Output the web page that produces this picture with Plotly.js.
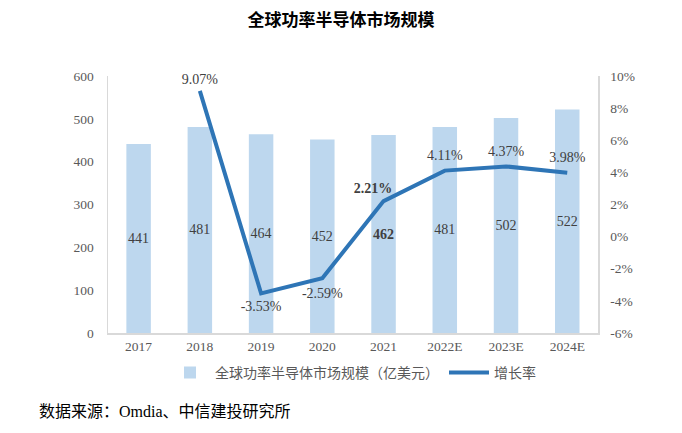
<!DOCTYPE html>
<html>
<head>
<meta charset="utf-8">
<script src="https://cdn.plot.ly/plotly-3.0.1.min.js"></script>
<style>
  body { margin: 0; background: #fff; }
  #chart { width: 682px; height: 433px; }
</style>
</head>
<body>
<div id="chart"></div>
<script>
// categories and values
var years = ["2017", "2018", "2019", "2020", "2021", "2022E", "2023E", "2024E"];
var marketSize = [441, 481, 464, 452, 462, 481, 502, 522];
var sizeLabels = ["441", "481", "464", "452", "<b>462</b>", "481", "502", "522"];
var growthYears = ["2018", "2019", "2020", "2021", "2022E", "2023E", "2024E"];
var growthRate = [9.07, -3.53, -2.59, 2.21, 4.11, 4.37, 3.98];
var growthLabels = ["9.07%", "-3.53%", "-2.59%", "<b>2.21%</b>", "4.11%", "4.37%", "3.98%"];
var labelPos = ["top center", "bottom center", "bottom center", "top center", "top center", "top center", "top center"];
var rateTicks = [-6, -4, -2, 0, 2, 4, 6, 8, 10];
var rateTickText = ["-6%", "-4%", "-2%", "0%", "2%", "4%", "6%", "8%", "10%"];

var serif = "Liberation Serif, Times New Roman, serif";
var cjk = "Liberation Serif, Noto Sans CJK SC, serif";

// the 2021 label sits a little left of its point
var pad = "\u00a0\u00a0\u00a0\u00a0\u00a0\u00a0";
var shownLabels = growthLabels.map(function (t, i) { return i === 3 ? t + pad : t; });

var bars = {
    x: years,
    y: marketSize,
    type: "bar",
    name: "全球功率半导体市场规模（亿美元）",
    width: 0.4,
    marker: { color: "#BDD7EE" },
    text: sizeLabels,
    textposition: "inside",
    insidetextanchor: "middle",
    textangle: 0,
    constraintext: "none",
    textfont: { family: serif, size: 14, color: "#404040" },
    hoverinfo: "skip"
};

var line = {
    x: growthYears,
    y: growthRate,
    type: "scatter",
    mode: "lines",
    yaxis: "y2",
    name: "增长率",
    line: { color: "#2E75B6", width: 4 }
};

// labels of the line, on their own trace so the legend keeps a plain line
var lineLabels = {
    x: growthYears,
    y: growthRate,
    type: "scatter",
    mode: "markers+text",
    yaxis: "y2",
    showlegend: false,
    marker: { size: [4, 10, 14, 6, 10, 10, 10], opacity: 0 },
    text: shownLabels,
    textposition: labelPos,
    textfont: { family: serif, size: 14, color: "#404040" },
    cliponaxis: false
};

var axisFont = { family: serif, size: 13.5, color: "#595959" };

var layout = {
    width: 682,
    height: 433,
    margin: { l: 108, r: 84, t: 76, b: 100 },
    paper_bgcolor: "#fff",
    plot_bgcolor: "#fff",
    showlegend: true,
    title: {
        text: "<b>全球功率半导体市场规模</b>",
        font: { family: cjk, size: 17, color: "#000" },
        x: 0.5, xanchor: "center",
        y: 0.953, yref: "container", yanchor: "middle"
    },
    xaxis: {
        type: "category",
        showline: true, linecolor: "#D9D9D9", linewidth: 1.5,
        ticks: "", tickfont: axisFont,
        showgrid: false, zeroline: false
    },
    yaxis: {
        range: [0, 600], dtick: 100,
        showline: true, linecolor: "#D9D9D9", linewidth: 1.5,
        ticks: "", tickfont: axisFont,
        showgrid: false, zeroline: false,
        ticklabelstandoff: 10
    },
    yaxis2: {
        overlaying: "y", side: "right",
        range: [-6, 10],
        tickmode: "array", tickvals: rateTicks, ticktext: rateTickText,
        showline: true, linecolor: "#D9D9D9", linewidth: 1.5,
        ticks: "", tickfont: axisFont,
        showgrid: false, zeroline: false,
        ticklabelstandoff: 8
    },
    legend: {
        orientation: "h",
        x: 0.5, xanchor: "center",
        y: -0.155, yanchor: "middle",
        font: { family: cjk, size: 14, color: "#595959" },
        itemwidth: 40
    },
    annotations: [{
        text: "数据来源：Omdia、中信建投研究所",
        xref: "paper", yref: "paper",
        x: -0.145, y: -0.307, xanchor: "left", yanchor: "middle",
        showarrow: false,
        font: { family: cjk, size: 16, color: "#000" }
    }]
};

Plotly.newPlot("chart", [bars, line, lineLabels], layout, { displayModeBar: false, staticPlot: true });
</script>
</body>
</html>
